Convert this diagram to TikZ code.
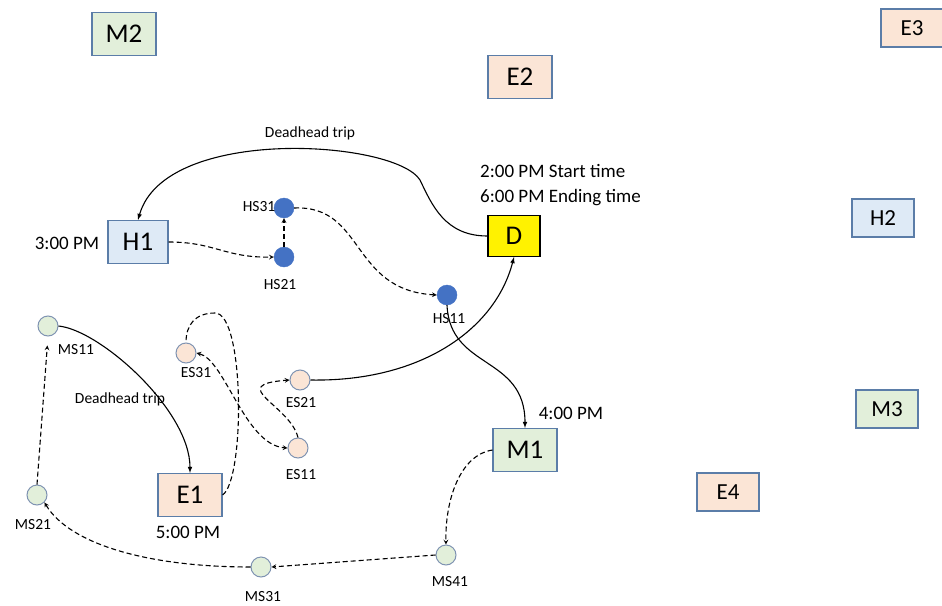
\documentclass[tikz,border=0pt]{standalone}
\usepackage{fontspec}
\setmainfont{Carlito}
\usepackage{tikz}
\usetikzlibrary{arrows}
\definecolor{boxline}{HTML}{5B7DA8}
\definecolor{dotline}{HTML}{7F93B2}
\definecolor{hubblue}{HTML}{4472C4}
\definecolor{hfill}{HTML}{DEEAF6}
\definecolor{mfill}{HTML}{E2EFDA}
\definecolor{efill}{HTML}{FBE5D6}

\begin{document}
\begin{tikzpicture}[x=1pt, y=-1pt,
    place/.style={rectangle, draw=boxline, line width=1.1pt, inner sep=0pt,
                  minimum width=64pt, minimum height=43pt, font=\fontsize{27}{30}\selectfont},
    far/.style={minimum height=38pt, minimum width=62pt, font=\fontsize{23}{26}\selectfont},
    hbox/.style={place, fill=hfill},
    mbox/.style={place, fill=mfill},
    ebox/.style={place, fill=efill},
    dbox/.style={place, fill=yellow, draw=black, minimum width=52pt, minimum height=41pt},
    hdot/.style={circle, draw=hubblue, fill=hubblue, minimum size=20pt, inner sep=0pt},
    mdot/.style={circle, draw=dotline, fill=mfill, line width=1pt, minimum size=20pt, inner sep=0pt},
    edot/.style={circle, draw=dotline, fill=efill, line width=1pt, minimum size=20pt, inner sep=0pt},
    tag/.style={inner sep=0pt, font=\fontsize{15.5}{17}\selectfont},
    clock/.style={inner sep=0pt, font=\fontsize{19}{21}\selectfont},
    sline/.style={-latex, line width=1.1pt},
    dline/.style={-stealth, line width=1.1pt, dash pattern=on 5pt off 3pt}]

      \useasboundingbox (0,0) rectangle (942,605);

      % terminals
      \node [mbox]       (M2)  at (124,34)  {M2};
      \node [ebox]       (E2)  at (520,77)  {E2};
      \node [ebox, far]  (E3)  at (912,28)  {E3};
      \node [hbox, far]  (H2)  at (883,218) {H2};
      \node [mbox, far]  (M3)  at (887,409) {M3};
      \node [ebox, far]  (E4)  at (728,492) {E4};
      \node [hbox, minimum width=60pt] (H1) at (138,242) {H1};
      \node [dbox]       (D)   at (514,236) {D};
      \node [ebox]       (E1)  at (190,495) {E1};
      \node [mbox]       (M1)  at (525,450) {M1};

      % stations
      \node [hdot] (HS31) at (284,208) {};
      \node [hdot] (HS21) at (284,257) {};
      \node [hdot] (HS11) at (447,295) {};
      \node [mdot] (MS11) at (48,326)  {};
      \node [mdot] (MS21) at (37,495)  {};
      \node [mdot] (MS31) at (261,567) {};
      \node [mdot] (MS41) at (446,555) {};
      \node [edot] (ES31) at (186,353) {};
      \node [edot] (ES21) at (300,380) {};
      \node [edot] (ES11) at (298,448) {};

      \node [tag] (tHS31) at (259,207) {HS31};
      \node [tag] (tHS21) at (280,285) {HS21};
      \node [tag] (tMS11) at (76,350)  {MS11};
      \node [tag] (tMS21) at (33,525)  {MS21};
      \node [tag] (tMS31) at (263,597) {MS31};
      \node [tag] (tMS41) at (450,582) {MS41};
      \node [tag] (tES31) at (196,373) {ES31};
      \node [tag] (tES21) at (301,403) {ES21};
      \node [tag] (tES11) at (301,475) {ES11};
      \node [tag] (dh1)   at (310,133) {Deadhead trip};
      \node [tag] (dh2)   at (120,399) {Deadhead trip};

      % times
      \node [clock]              (tH1)    at (67,243)  {3:00 PM};
      \node [clock, anchor=west] (tStart) at (480,171) {2:00 PM Start time};
      \node [clock, anchor=west] (tEnd)   at (480,198) {6:00 PM Ending time};
      \node [clock]              (tM1)    at (571,413) {4:00 PM};
      \node [clock]              (tE1)    at (188,532) {5:00 PM};

      % trips
      \draw [sline] (D.west) .. controls (445,236) and (432,205) .. (420,180)
                    .. controls (395,140) and (165,125) .. (H1.north);
      \draw [dline] (H1.east) .. controls (215,242) and (225,258) .. (HS21.west);
      \draw [dline] (HS21.north) -- (HS31.south);
      \draw [dline] (HS31.east) .. controls (365,205) and (350,290) .. (HS11.west);
      \draw [sline] (HS11.south) .. controls (450,370) and (525,355) .. (M1.north);
      \draw [dline] (M1.west) .. controls (460,455) and (445,500) .. (MS41.north);
      \draw [dline] (MS41.west) -- (MS31.east);
      \draw [dline] (MS31.west) .. controls (150,567) and (70,545) .. (MS21.south east);
      \draw [dline, shorten >=9pt] (MS21.north) -- (MS11.south);
      \draw [sline] (MS11.east) .. controls (100,330) and (190,410) .. (E1.north);
      \draw [dline, -] (E1.east) .. controls (245,480) and (245,313) .. (215,313)
                       .. controls (195,313) and (186,325) .. (ES31.north);
      \draw [dline, stealth-stealth] (ES31.east) .. controls (225,360) and (245,445) .. (ES11.west);
      \draw [dline] (ES11.north) .. controls (290,405) and (225,385) .. (ES21.west);
      \draw [sline] (ES21.east) .. controls (420,382) and (495,330) .. (D.south);

      % label drawn over the trip to M1
      \node [tag] (tHS11) at (449,319) {HS11};
    \end{tikzpicture}
\end{document}
